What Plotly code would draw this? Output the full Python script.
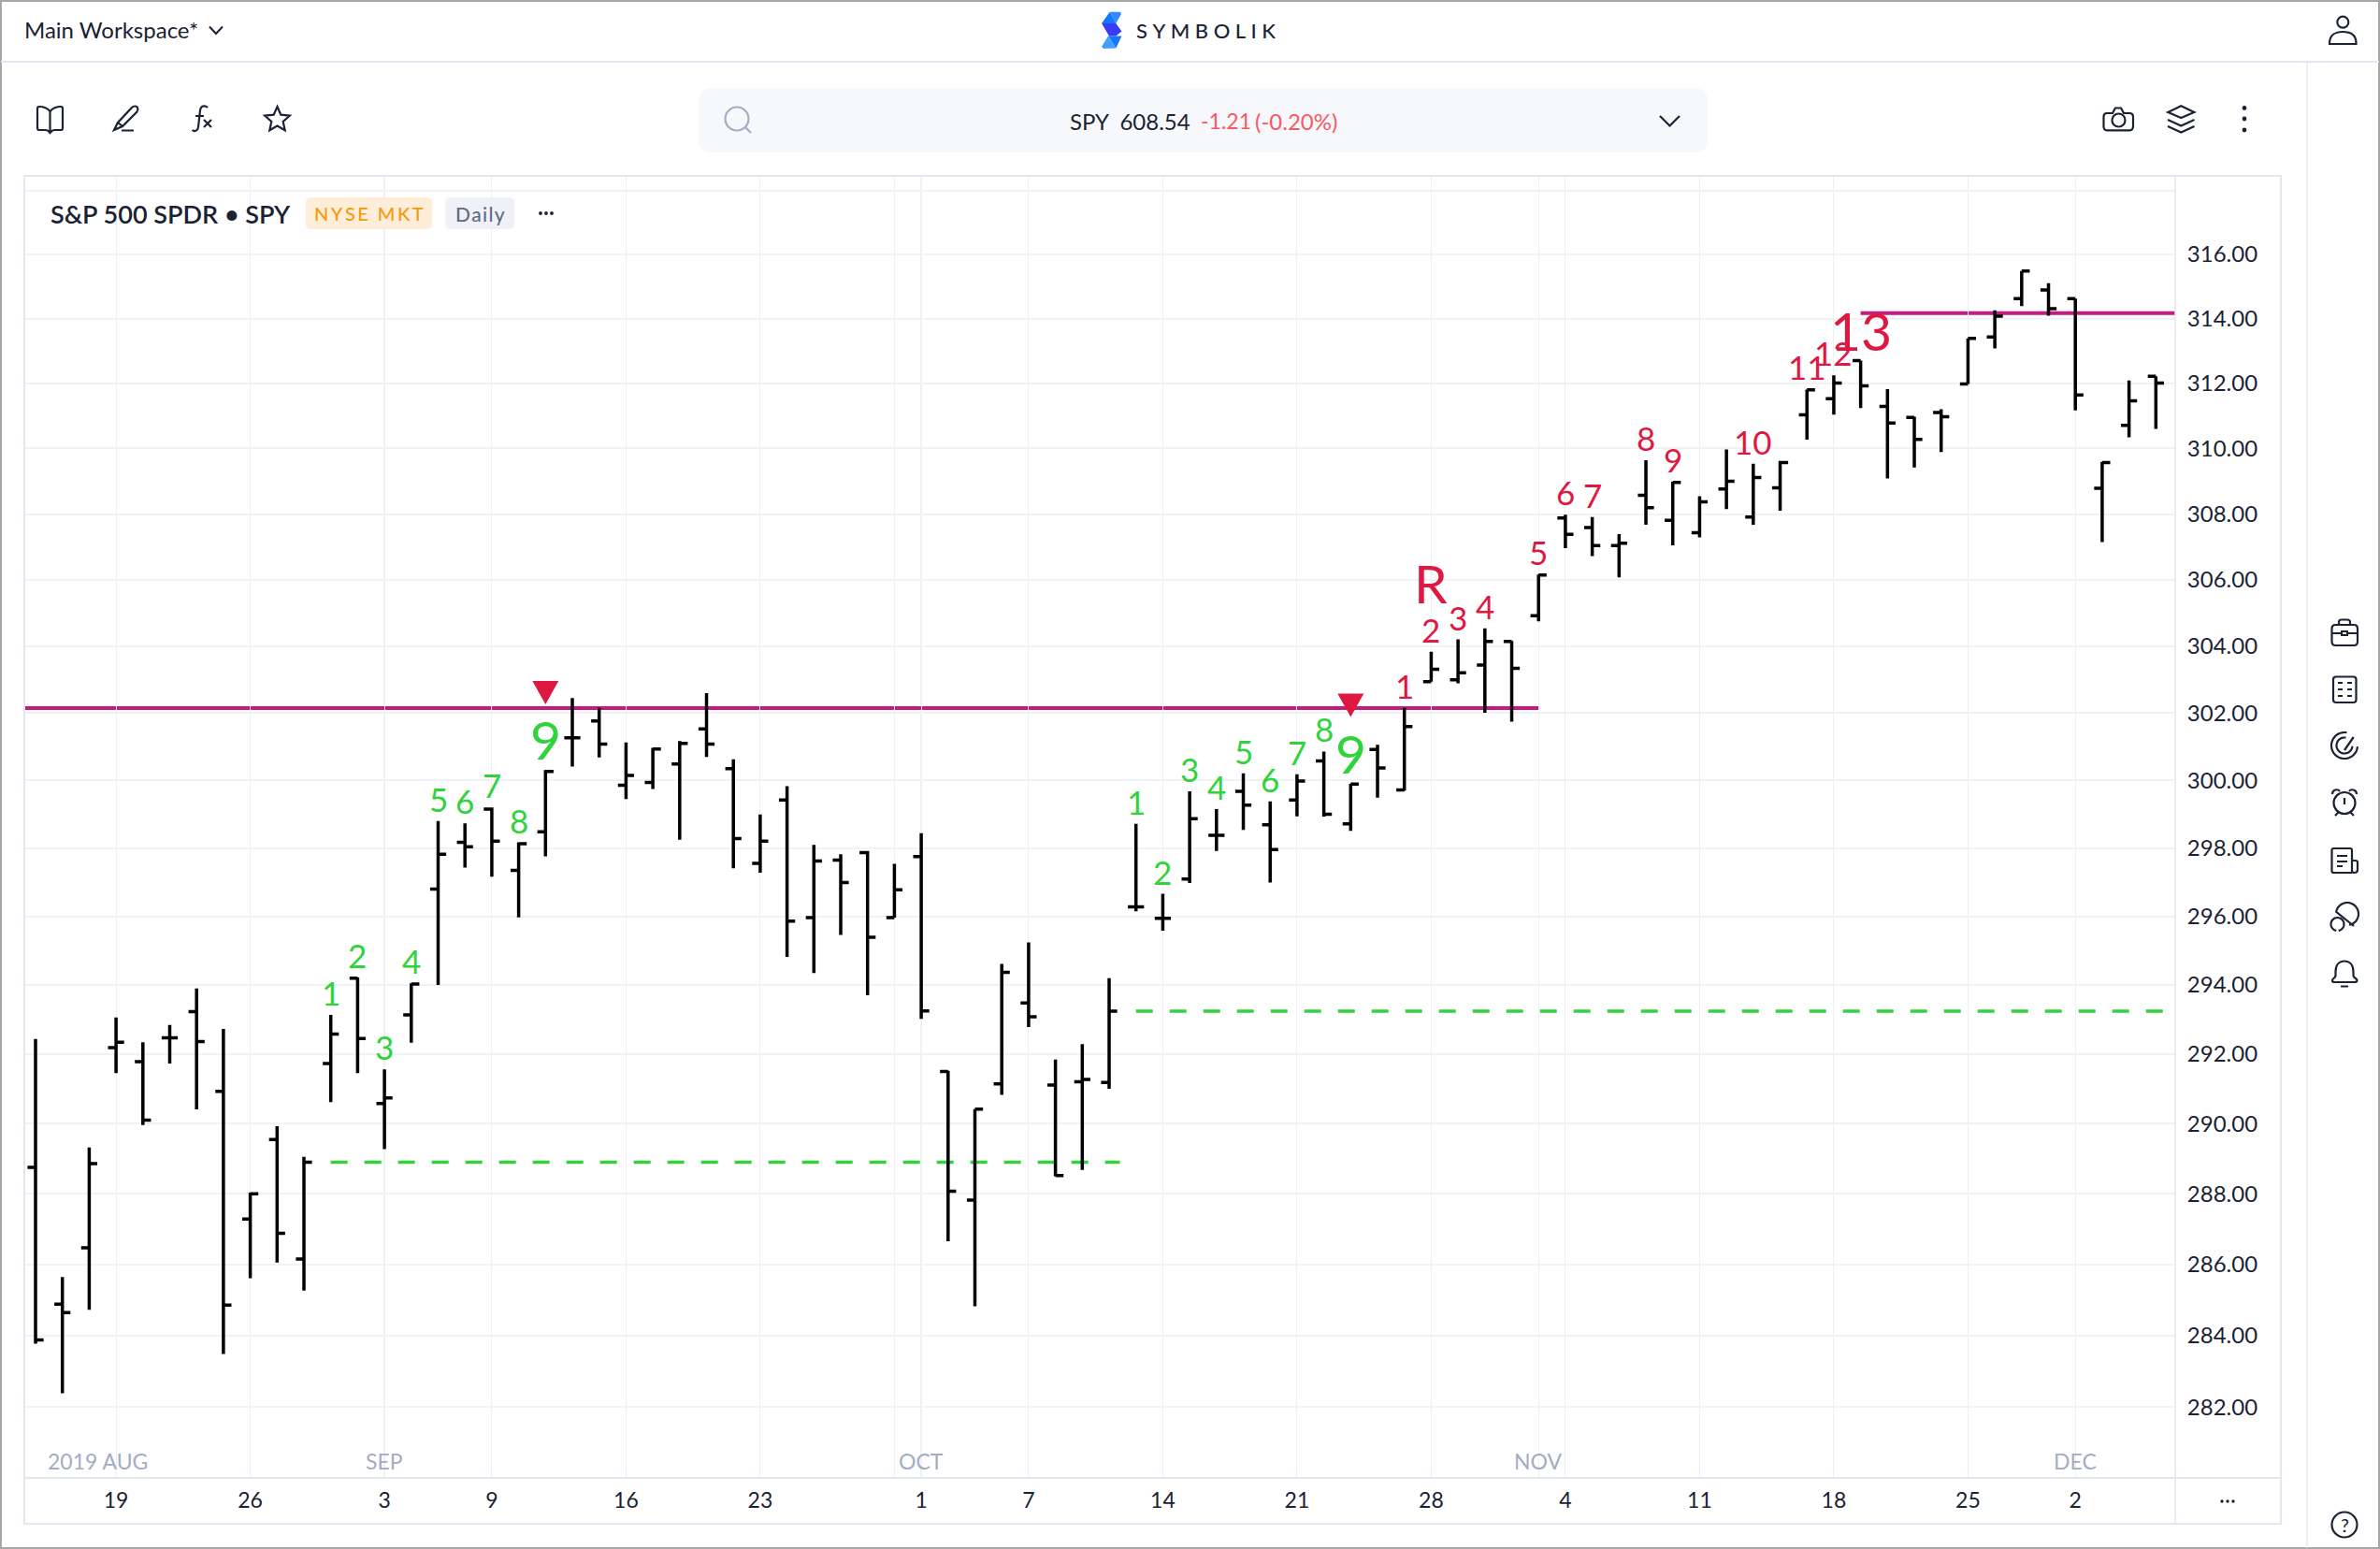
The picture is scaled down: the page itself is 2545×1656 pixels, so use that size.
import numpy as np
import pandas as pd
import plotly.graph_objects as go

# daily SPY bars
dates = [d.strftime("%Y-%m-%d") for d in pd.bdate_range("2019-08-14", "2019-12-05")
         if d.strftime("%Y-%m-%d") not in ("2019-09-02", "2019-11-28")]

opens = [288.75, 284.88, 286.47, 292.19, 291.78, 292.47, 293.23, 290.93, 287.28, 289.55,
         286.15, 291.73, 294.20, 290.58, 293.13, 296.80, 298.17, 299.15, 297.35, 298.48,
         301.27, 301.77, 299.86, 299.94, 300.49, 301.53, 300.35, 297.55, 299.42, 295.96,
         297.65, 297.87, 295.96, 297.75, 291.50, 287.82, 291.14, 293.48, 291.11, 291.20,
         291.18, 296.28, 295.94, 297.09, 298.38, 299.68, 298.69, 299.42, 300.58, 298.72,
         300.92, 299.72, 302.94, 303.00, 303.44, 304.15, 304.92, 307.88, 307.59, 307.04,
         308.57, 307.81, 307.43, 308.76, 307.91, 308.80, 311.03, 311.53, 312.70, 311.29,
         310.95, 311.10, 311.98, 313.43, 314.62, 314.89, 314.62, 308.78, 310.71, 312.22]
highs = [292.44, 285.64, 289.32, 293.06, 292.34, 292.84, 293.90, 292.73, 288.03, 289.93,
         289.05, 293.13, 294.22, 291.56, 294.05, 298.80, 298.73, 299.20, 298.17, 300.31,
         302.45, 302.16, 301.13, 300.97, 301.17, 302.60, 300.63, 298.99, 299.83, 298.10,
         297.82, 297.92, 297.54, 298.44, 291.52, 290.42, 294.61, 295.24, 291.84, 292.29,
         294.20, 298.72, 296.66, 299.68, 299.15, 300.21, 299.38, 300.18, 300.86, 299.90,
         301.06, 302.16, 303.84, 304.21, 304.54, 304.16, 306.16, 307.98, 307.91, 307.39,
         309.64, 308.98, 308.54, 309.97, 309.53, 309.62, 311.81, 312.25, 312.70, 311.82,
         310.97, 311.20, 313.39, 314.26, 315.48, 315.10, 314.62, 309.59, 312.09, 312.22]
lows = [283.77, 282.38, 284.72, 291.45, 289.96, 291.73, 290.41, 283.48, 285.61, 286.05,
        285.26, 290.62, 291.45, 289.27, 292.33, 294.00, 297.43, 297.16, 295.97, 297.76,
        300.41, 300.68, 299.45, 299.75, 298.25, 300.70, 297.41, 297.28, 294.82, 294.35,
        295.46, 293.70, 295.96, 293.02, 286.65, 284.82, 290.83, 292.78, 288.50, 288.68,
        291.00, 296.15, 295.58, 296.98, 297.92, 298.54, 296.99, 298.94, 298.93, 298.51,
        299.49, 299.70, 302.94, 302.89, 302.01, 301.75, 304.75, 306.96, 306.72, 306.08,
        307.67, 307.05, 307.29, 308.15, 307.67, 308.10, 310.27, 311.04, 311.24, 309.08,
        309.42, 309.89, 311.98, 313.08, 314.39, 314.09, 311.17, 307.15, 310.34, 310.60]
closes = [283.87, 284.64, 288.86, 292.34, 290.10, 292.47, 292.36, 284.85, 288.00, 286.88,
          288.90, 292.58, 292.45, 290.74, 294.03, 297.82, 298.04, 298.21, 298.13, 300.27,
          301.27, 301.08, 300.15, 300.93, 301.10, 301.08, 298.28, 298.21, 295.86, 297.62,
          296.99, 295.39, 296.78, 293.25, 288.07, 290.42, 294.37, 293.08, 288.52, 291.27,
          293.24, 296.28, 295.94, 298.87, 298.38, 299.27, 297.96, 299.98, 299.00, 299.89,
          300.37, 301.60, 303.31, 303.21, 304.15, 303.34, 306.15, 307.38, 307.04, 307.11,
          308.19, 308.96, 308.37, 309.00, 309.11, 309.57, 311.80, 312.01, 311.92, 310.78,
          310.28, 310.97, 313.39, 314.08, 315.48, 314.31, 311.64, 309.57, 311.46, 312.01]

price_ticks = [282, 284, 286, 288, 290, 292, 294, 296, 298, 300, 302, 304, 306, 308, 310, 312, 314, 316, 318]
price_labels = [f"{p:.2f}" for p in price_ticks[:-1]] + [""]

week_ticks = ["2019-08-19", "2019-08-26", "2019-09-03", "2019-09-09", "2019-09-16", "2019-09-23",
              "2019-09-30", "2019-10-01", "2019-10-07", "2019-10-14", "2019-10-21", "2019-10-28",
              "2019-11-01", "2019-11-04", "2019-11-11", "2019-11-18", "2019-11-25", "2019-12-02"]
week_labels = ["19", "26", "3", "9", "16", "23", "", "1", "7", "14", "21", "28", "", "4", "11", "18", "25", "2"]
month_names = ["SEP", "OCT", "NOV", "DEC"]
month_dates = ["2019-09-03", "2019-10-01", "2019-11-01", "2019-12-02"]

green_bars = [11, 12, 13, 14, 15, 16, 17, 18, 19, 41, 42, 43, 44, 45, 46, 47, 48, 49]
green_text = ["1", "2", "3", "4", "5", "6", "7", "8", "9", "1", "2", "3", "4", "5", "6", "7", "8", "9"]
red_bars = [51, 52, 53, 54, 56, 57, 58, 60, 61, 64, 66, 67, 68]
red_text = ["1", "2", "3", "4", "5", "6", "7", "8", "9", "10", "11", "12", "13"]
big_bars = [19, 49, 68]

# level lines: start bar, end bar, price
resist_start = [-1, 68]
resist_end = [56, 81]
resist_price = [302.15, 314.17]
support_start = [11, 41]
support_end = [40.4, 81]
support_price = [288.90, 293.24]

signal_bars = [19, 49]
signal_price = [302.63, 302.25]

FONT = "Lato"
INK = "#1A2233"
GREEN = "#30D33B"
RED = "#DF1842"
MAGENTA = "#C9187E"
LINE = "#E3E7F2"
GRID = "#F0F2F7"

shapes = []
annotations = []


def draw(path, color=INK, width=2.2, fill=None):
    shapes.append(dict(type="path", path=path, xref="x2", yref="y2", layer="above",
                       line=dict(color=color, width=width), fillcolor=fill))


def box(x0, y0, x1, y1, color=None, fill=None, width=1.5, r=0):
    if r:
        path = (f"M{x0+r} {y0} L{x1-r} {y0} Q{x1} {y0} {x1} {y0+r} L{x1} {y1-r} Q{x1} {y1} {x1-r} {y1} "
                f"L{x0+r} {y1} Q{x0} {y1} {x0} {y1-r} L{x0} {y0+r} Q{x0} {y0} {x0+r} {y0} Z")
    else:
        path = f"M{x0} {y0} L{x1} {y0} L{x1} {y1} L{x0} {y1} Z"
    draw(path, color or "rgba(0,0,0,0)", width, fill)


def arc(cx, cy, r, a0, a1):
    a = np.radians(np.linspace(a0, a1, 40))
    return "M" + " L".join(f"{cx+r*np.cos(t):.1f} {cy+r*np.sin(t):.1f}" for t in a)


def dot(cx, cy, r, color=INK, fill=None, width=2.2):
    shapes.append(dict(type="circle", xref="x2", yref="y2", x0=cx-r, x1=cx+r, y0=cy-r, y1=cy+r, layer="above",
                       line=dict(color=color, width=width), fillcolor=fill))


def label(x, y, text, size=23, color=INK, anchor="left", weight=400):
    annotations.append(dict(x=x, y=y, xref="x2", yref="y2", text=text, showarrow=False, xanchor=anchor,
                            yanchor="middle", font=dict(family=FONT, size=size, color=color, weight=weight)))


fig = go.Figure()
fig.add_trace(go.Ohlc(x=dates, open=opens, high=highs, low=lows, close=closes,
                      increasing_line=dict(color="#000000", width=3.5),
                      decreasing_line=dict(color="#000000", width=3.5),
                      tickwidth=0.3, hoverinfo="skip", showlegend=False))
# holds the full-page axes used for the app chrome
fig.add_trace(go.Scatter(x=[0], y=[0], xaxis="x2", yaxis="y2", mode="none", hoverinfo="skip", showlegend=False))

# ---- level lines and signals ----
for x0, x1, p in zip(resist_start, resist_end, resist_price):
    shapes.append(dict(type="line", xref="x", yref="y", x0=x0, x1=x1, y0=p, y1=p, layer="below",
                       line=dict(color=MAGENTA, width=4)))
for x0, x1, p in zip(support_start, support_end, support_price):
    shapes.append(dict(type="line", xref="x", yref="y", x0=x0, x1=x1, y0=p, y1=p, layer="below",
                       line=dict(color=GREEN, width=3.6, dash="18px,18px")))
for b, p in zip(signal_bars, signal_price):
    shapes.append(dict(type="path", xref="x", yref="y", xsizemode="pixel", ysizemode="pixel", xanchor=b, yanchor=p,
                       path="M-14 12 L14 12 L0 -13 Z", fillcolor=RED, line=dict(width=0), layer="above"))
for d in month_dates[:2]:
    shapes.append(dict(type="line", xref="x", yref="paper", x0=d, x1=d, y0=76/1656, y1=1468/1656,
                       layer="below", line=dict(color="#E8EBF3", width=1.5)))


def count_label(b, text, color):
    big = b in big_bars
    annotations.append(dict(x=dates[b], y=np.log10(highs[b]), xref="x", yref="y", text=text, showarrow=False,
                            yanchor="bottom", yshift=-3 if big else 1,
                            font=dict(family=FONT, size=57 if big else 35, color=color)))


for b, t in zip(green_bars, green_text):
    count_label(b, t, GREEN)
for b, t in zip(red_bars, red_text):
    count_label(b, t, RED)
annotations.append(dict(x=dates[52], y=np.log10(highs[52]), xref="x", yref="y", text="R", showarrow=False,
                        yanchor="bottom", yshift=38, font=dict(family=FONT, size=57, color=RED)))

for name, d in zip(month_names, month_dates):
    annotations.append(dict(x=d, xref="x", y=1562, yref="y2", text=name, showarrow=False, yanchor="middle",
                            font=dict(family=FONT, size=23, color="#A3ACC3")))
label(49, 1562, "2019 AUG", color="#A3ACC3")

# ---- app chrome, in page pixels ----
box(1, 1, 2544, 1655, color="#A6A6A6", width=2)
draw("M1 66 L2544 66", LINE, 2)
draw("M2467 66 L2467 1655", LINE, 1.5)
box(26, 188, 2439, 1629, color=LINE, width=2)
draw("M26 1580 L2439 1580", LINE, 2)
draw("M2326 188 L2326 1629", LINE, 1.5)

label(24, 31, "Main Workspace*", 24)
draw("M224 28.5 L231 36 L238 28.5", INK, 2)

draw("M1186.7 12.7 L1198 12.7 L1199 15 L1193.3 25 Z", "rgba(0,0,0,0)", 0, "#2F8CFF")
draw("M1186.7 12.7 L1193.3 25 L1178 25 Z", "rgba(0,0,0,0)", 0, "#1477FF")
draw("M1178 25 L1193.3 25 L1199.5 33.5 L1193.3 38.5 L1186 38.5 Z", "rgba(0,0,0,0)", 0, "#3B3BF5")
draw("M1185 38.5 L1199.5 38.5 L1193.3 51.5 Z", "rgba(0,0,0,0)", 0, "#1477FF")
draw("M1178 50 L1185 38.5 L1193.3 51.5 L1180 52 Z", "rgba(0,0,0,0)", 0, "#3FA0FF")
label(1213, 32, "\u2009\u200a\u200a".join("SYMBOLIK"), 22, INK, weight=500)

draw("M53.5 119 C50 115 45 114 42 114 C40.5 114 40 115 40 116 L40 137 C40 138.5 41 139 42 139 L49 139 "
     "C51 139 52 140 53.5 142 C55 140 56 139 58 139 L65 139 C66 139 67 138.5 67 137 L67 116 "
     "C67 115 66.5 114 65 114 C62 114 57 115 53.5 119 Z M53.5 119 L53.5 141")
draw("M122 139 L126 131 L141 115 C143 113 146 113 147 115 C148 117 147.5 118 146.5 119.5 L131 135 Z "
     "M126 131 L131 135 M130 139.5 L143 139.5")
draw("M222 115 C219 112 214.5 113 214 118 L212 136 C211.5 140 208 141 205.5 139 M209 124 L218 124 "
     "M218 128 L226 136 M226 128 L218 136")
draw("M296.5 114 L300.3 122.7 L309.8 123.7 L302.7 130 L304.7 139.3 L296.5 134.5 L288.3 139.3 L290.3 130 "
     "L283.2 123.7 L292.7 122.7 Z")

box(747, 94, 1826, 163, fill="#F7F8FC", r=14)
dot(788, 127, 12.5, "#A4ADC3")
draw("M797 136 L803 142", "#A4ADC3", 2.2)
label(1142, 129, "SPY  608.54", 24)
label(1282, 129, "-1.21", 23, "#F9595F")
label(1340, 129, "(-0.20%)", 24, "#F9595F")
draw("M1775 124 L1785.5 134.5 L1796 124", INK, 2.2)

draw("M2253 121 L2259 121 L2262 115.5 L2268 115.5 L2271 121 L2277 121 C2279.5 121 2281 122.5 2281 125 L2281 135 "
     "C2281 138 2279.5 139.3 2277 139.3 L2253 139.3 C2250.5 139.3 2249.5 138 2249.5 135 L2249.5 125 "
     "C2249.5 122.5 2250.5 121 2253 121 Z")
dot(2265.5, 128.5, 7)
draw("M2318.3 120 L2332.3 113.3 L2346.3 120 L2332.3 126 Z M2318 128 L2332.3 134.5 L2346.5 128 "
     "M2318 135 L2332.3 141.5 L2346.5 135")
for y in (115.5, 127, 139):
    dot(2400, y, 2.4, fill=INK, width=0)
dot(2505.3, 23.7, 6)
draw("M2491 46.5 C2491 37 2498 34 2505 34 C2513 34 2519.5 37 2519.5 46 L2519.5 47 L2491 47 Z")

# side toolbar
box(2493.5, 668, 2521, 690, color=INK, width=2.2, r=4)
draw("M2501 668 L2501 665 C2501 663 2502 662.5 2504 662.5 L2510 662.5 C2512 662.5 2513 663 2513 665 L2513 668 "
     "M2493.5 677 L2504 677 M2510 677 L2521 677")
box(2504, 675, 2510, 679, color=INK, width=2)
box(2495, 723.5, 2519.5, 751, color=INK, width=2.2, r=3)
for y in (730, 737, 744):
    draw(f"M2500 {y} L2505 {y} M2510 {y} L2515 {y}", INK, 2)
draw(arc(2507, 797, 14, 5, 280))
draw(arc(2507, 797, 8.5, 5, 280))
draw("M2507 802 L2516.7 788")
dot(2507, 858.5, 11.5)
draw("M2494 849 C2494 844 2500 843 2502 846 M2520 849 C2520 844 2514 843 2512 846 M2497 872 L2501 868 M2517 872 L2513 868 "
     "M2507 853 L2507 860")
draw("M2515 933 L2495.5 933 C2494 933 2493.5 932 2493.5 931 L2493.5 909 C2493.5 907.5 2494 907 2495.5 907 L2513 907 "
     "C2514.5 907 2515 907.5 2515 909 L2515 931 C2515 932.5 2516 933 2517.5 933 C2520 933 2521 932 2521 930 L2521 922 "
     "C2521 920.5 2520 920 2518.5 920 L2515 920 M2499 915 L2510 915 M2499 921 L2510 921 M2499 926 L2505 926")
draw(arc(2510, 977, 12, 80, -170) + " L2517 990")
draw(arc(2499.5, 988, 7, 100, 440))
draw("M2497.5 1043 L2497.5 1039 C2497.5 1031 2502 1027.5 2507 1027.5 C2512 1027.5 2516.5 1031 2516.5 1039 L2516.5 1043 "
     "C2517 1046 2520.5 1046 2520.5 1048 C2520.5 1050 2519 1050 2518 1050 L2496 1050 C2495 1050 2494 1050 2494 1048 "
     "C2494 1046 2497 1046 2497.5 1043 Z M2503 1054.5 L2511 1054.5")
dot(2507, 1630, 13.5)
label(2507, 1630, "?", 20, INK, "center")
for x in (2376, 2382, 2388):
    dot(x, 1605, 1.7, fill=INK, width=0)

# chart header
label(52, 228, "S&P 500 SPDR \u2022 SPY", 27, INK, weight=600)
box(327, 211, 462, 245, fill="#FDEDD9", r=6)
label(394.5, 228, "N\u2009Y\u2009S\u2009E\u2002M\u2009K\u2009T", 20, "#F59A0C", "center", weight=500)
box(476, 211, 550, 245, fill="#EFF1F6", r=6)
label(513, 228, "D\u200aa\u200ai\u200al\u200ay", 21, "#5F6B85", "center", weight=500)
for x in (578, 584, 590):
    dot(x, 228, 1.9, fill=INK, width=0)

fig.update_layout(
    width=2545, height=1656,
    margin=dict(l=0, r=0, t=0, b=0),
    paper_bgcolor="#FFFFFF", plot_bgcolor="rgba(0,0,0,0)",
    font=dict(family=FONT, color=INK),
    showlegend=False,
    shapes=shapes, annotations=annotations,
    xaxis=dict(type="category", categoryorder="array", categoryarray=dates,
               domain=[26/2545, 2326/2545], range=[-0.418, 79.72],
               tickmode="array", tickvals=week_ticks, ticktext=week_labels,
               tickfont=dict(size=23, color=INK), tickangle=0,
               ticks="outside", ticklen=3, tickcolor="rgba(0,0,0,0)",
               showgrid=True, gridcolor="#EEF0F6", gridwidth=1,
               showline=False, zeroline=False, rangeslider=dict(visible=False), anchor="y"),
    yaxis=dict(type="log", side="right", domain=[76/1656, 1468/1656],
               range=[np.log10(280.03), np.log10(318.46)],
               tickmode="array", tickvals=price_ticks, ticktext=price_labels,
               tickfont=dict(size=24, color=INK),
               ticks="outside", ticklen=7, tickcolor="rgba(0,0,0,0)",
               showgrid=True, gridcolor=GRID, gridwidth=2,
               showline=False, zeroline=False, anchor="x"),
    xaxis2=dict(domain=[0, 1], range=[0, 2545], visible=False, fixedrange=True, anchor="y2"),
    yaxis2=dict(domain=[0, 1], range=[1656, 0], visible=False, fixedrange=True, anchor="x2"),
)

fig.write_html("out.html", config=dict(displayModeBar=False), post_script="document.body.style.margin='0';")
